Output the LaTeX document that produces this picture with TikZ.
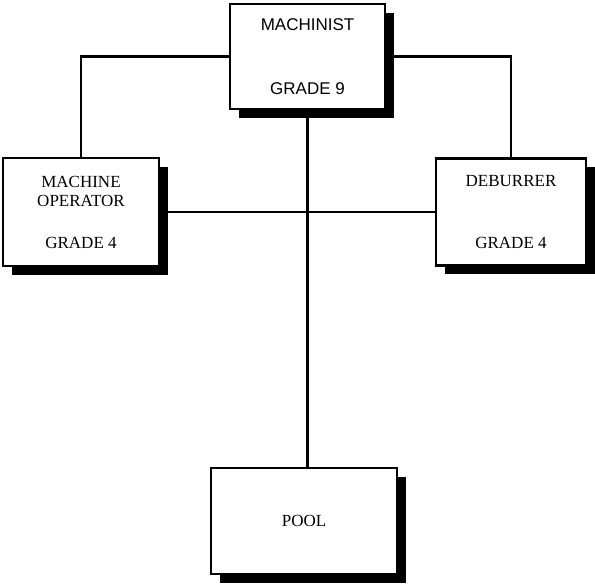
\documentclass[tikz,border=0pt]{standalone}
\usepackage{fontspec}
\setmainfont{Liberation Serif}
\setsansfont{Liberation Sans}
\usetikzlibrary{shadows}

\begin{document}
\begin{tikzpicture}[x=1pt,y=-1pt,
    jobbox/.style={draw,line width=2.8pt,fill=white,align=center,inner sep=0pt,
      drop shadow={shadow xshift=9pt,shadow yshift=-9pt,fill=black,opacity=1}},
    link/.style={line width=2.4pt}]
      \useasboundingbox (0,0) rectangle (595,585);
      \node[jobbox,minimum width=155pt,minimum height=105pt,font=\sffamily\fontsize{17}{20}\selectfont] (mach) at (307.5,56.5) {MACHINIST\\[44pt]GRADE 9};
      \node[jobbox,minimum width=156pt,minimum height=108pt,font=\fontsize{17}{19}\selectfont] (oper) at (81,212) {MACHINE\\OPERATOR\\[23pt]GRADE 4};
      \node[jobbox,minimum width=150pt,minimum height=107pt,font=\fontsize{17}{19}\selectfont] (deb) at (511,212) {DEBURRER\\[43pt]GRADE 4};
      \node[jobbox,minimum width=186pt,minimum height=106pt,font=\fontsize{17}{19}\selectfont] (pool) at (304,521) {POOL};
      \draw[link] (mach.west) -| (oper.north);
      \draw[link] (mach.east) -| (deb.north);
      \draw[link] (oper.east) -- (deb.west);
      \draw[link] (mach.south) -- (mach.south |- pool.north);
\end{tikzpicture}
\end{document}
